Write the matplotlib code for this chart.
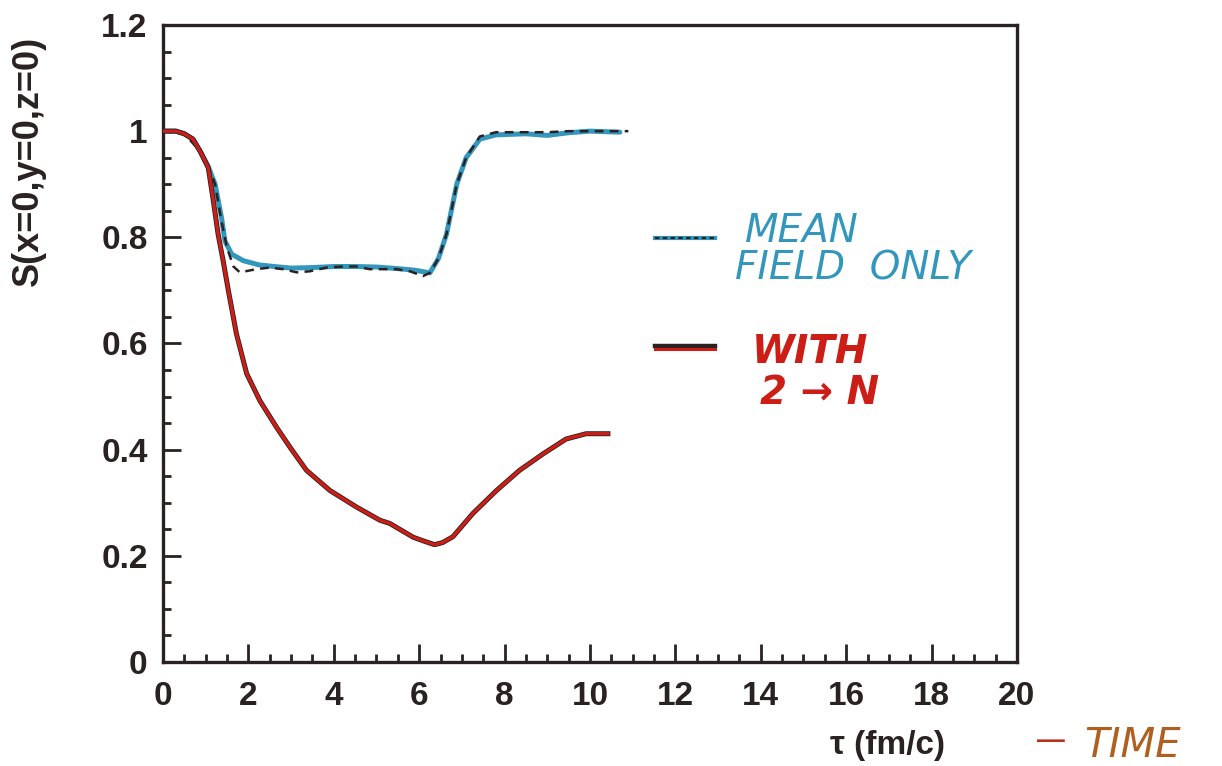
import numpy as np
import matplotlib
matplotlib.use('Agg')
import matplotlib.pyplot as plt
from matplotlib.ticker import MultipleLocator

plt.rcParams['font.family'] = ['Liberation Sans', 'DejaVu Sans']

# with 2 -> N (solid, red over black)
t_red = [0, 0.3, 0.5, 0.7, 0.87, 1.06, 1.18, 1.29, 1.41, 1.53, 1.72, 1.96, 2.27,
         2.66, 2.97, 3.36, 3.91, 4.53, 5.08, 5.31, 5.86, 6.1, 6.36, 6.55, 6.79,
         7.26, 7.81, 8.35, 8.9, 9.44, 9.91, 10.42]
S_red = [1.0, 1.0, 0.995, 0.985, 0.962, 0.931, 0.868, 0.806, 0.755, 0.70, 0.618,
         0.543, 0.492, 0.442, 0.405, 0.361, 0.323, 0.292, 0.267, 0.261, 0.235,
         0.228, 0.221, 0.225, 0.236, 0.280, 0.323, 0.361, 0.392, 0.420, 0.430, 0.430]

# mean field only (blue trace)
t_blue = [0, 0.3, 0.5, 0.7, 0.87, 1.05, 1.22, 1.37, 1.45, 1.61, 1.88, 2.25, 2.6,
          3.0, 3.5, 4.0, 4.5, 5.0, 5.5, 5.9, 6.25, 6.45, 6.64, 6.88, 7.1, 7.42,
          7.8, 8.5, 9.0, 9.5, 10.0, 10.7]
S_blue = [1.0, 1.0, 0.995, 0.985, 0.962, 0.935, 0.90, 0.837, 0.793, 0.768, 0.756,
          0.748, 0.745, 0.742, 0.743, 0.745, 0.745, 0.744, 0.741, 0.738, 0.733,
          0.76, 0.806, 0.90, 0.95, 0.985, 0.993, 0.995, 0.992, 0.997, 1.0, 0.998]

# mean field only (printed dashed)
t_dash = [0, 0.5, 0.87, 1.05, 1.22, 1.37, 1.5, 1.65, 1.8, 2.19, 2.5, 2.81, 3.13,
          3.44, 3.83, 4.22, 4.53, 4.84, 5.15, 5.47, 5.78, 6.09, 6.25, 6.45, 6.64,
          6.88, 7.1, 7.42, 7.8, 8.5, 9.0, 9.5, 10.0, 10.9]
S_dash = [1.0, 0.995, 0.962, 0.935, 0.90, 0.83, 0.78, 0.745, 0.734, 0.740, 0.743,
          0.740, 0.734, 0.736, 0.743, 0.745, 0.745, 0.740, 0.740, 0.740, 0.736,
          0.727, 0.733, 0.76, 0.806, 0.90, 0.95, 0.99, 0.998, 0.998, 0.998, 1.0,
          1.0, 1.0]

BLUE = '#3397bd'
RED = '#cc1d17'
INK = '#2a2222'
BROWN = '#b0601e'

fig = plt.figure(figsize=(12.22, 7.66), dpi=100)
ax = fig.add_axes([0.1334, 0.1358, 0.8322 - 0.1334, 0.9674 - 0.1358])

ax.plot(t_blue, S_blue, color=BLUE, lw=3.6, solid_capstyle='round', zorder=2)
ax.plot(t_dash, S_dash, color=INK, lw=1.8, dashes=(3.5, 2.5), zorder=3)
ax.plot(t_red, S_red, color=INK, lw=3.6, zorder=4)
ax.plot(t_red, S_red, color=RED, lw=2.4, zorder=5)

ax.set_xlim(0, 20)
ax.set_ylim(0, 1.2)
ax.xaxis.set_minor_locator(MultipleLocator(0.5))
ax.yaxis.set_minor_locator(MultipleLocator(0.05))
ax.set_xticks(range(0, 21, 2))
ax.set_xticklabels([str(v) for v in range(0, 21, 2)])
ax.set_yticks([0, 0.2, 0.4, 0.6, 0.8, 1.0, 1.2])
ax.set_yticklabels(['0', '0.2', '0.4', '0.6', '0.8', '1', '1.2'])

ax.tick_params(which='both', direction='in', top=False, right=False,
               color=INK, width=2.0, labelcolor=INK)
ax.tick_params(which='major', length=13, labelsize=24)
ax.tick_params(which='minor', length=6)
ax.tick_params(axis='x', pad=14)
ax.tick_params(axis='y', pad=11)
for lab in ax.get_xticklabels() + ax.get_yticklabels():
    lab.set_fontweight('bold')
for s in ax.spines.values():
    s.set_linewidth(2.4)
    s.set_color(INK)

# hand-drawn legend
ax.plot([0.576, 0.646], [0.666, 0.666], transform=ax.transAxes, color=BLUE,
        lw=3, clip_on=False)
ax.plot([0.576, 0.646], [0.666, 0.666], transform=ax.transAxes, color=INK,
        lw=1.6, dashes=(2, 1.5), clip_on=False)
ax.plot([0.576, 0.646], [0.496, 0.496], transform=ax.transAxes, color=INK,
        lw=3.2, clip_on=False)
ax.plot([0.576, 0.646], [0.492, 0.492], transform=ax.transAxes, color=RED,
        lw=2.2, clip_on=False)

hand = dict(fontsize=28, style='italic', transform=ax.transAxes, va='center',
            ha='left', family=['DejaVu Sans'], clip_on=False)
ax.text(0.681, 0.677, 'MEAN', color=BLUE, **hand)
ax.text(0.670, 0.617, 'FIELD  ONLY', color=BLUE, **hand)
ax.text(0.690, 0.487, 'WITH', color=RED, fontweight='bold', **hand)
ax.text(0.699, 0.422, '2 \u2192 N', color=RED, fontweight='bold', **hand)

fig.text(0.023, 0.79, 'S(x=0,y=0,z=0)', rotation=90, fontsize=26,
         fontweight='bold', color=INK, ha='center', va='center')
fig.text(0.773, 0.027, '\u03c4 (fm/c)', fontsize=24, fontweight='bold',
         color=INK, ha='right', va='center')
fig.text(0.849, 0.033, '\u2014', fontsize=20, fontweight='bold', color='#b8301a',
         ha='left', va='center')
fig.text(0.887, 0.027, 'TIME', fontsize=29, style='italic', color=BROWN,
         ha='left', va='center', family=['DejaVu Sans'])

fig.savefig('out.png', dpi=100)
